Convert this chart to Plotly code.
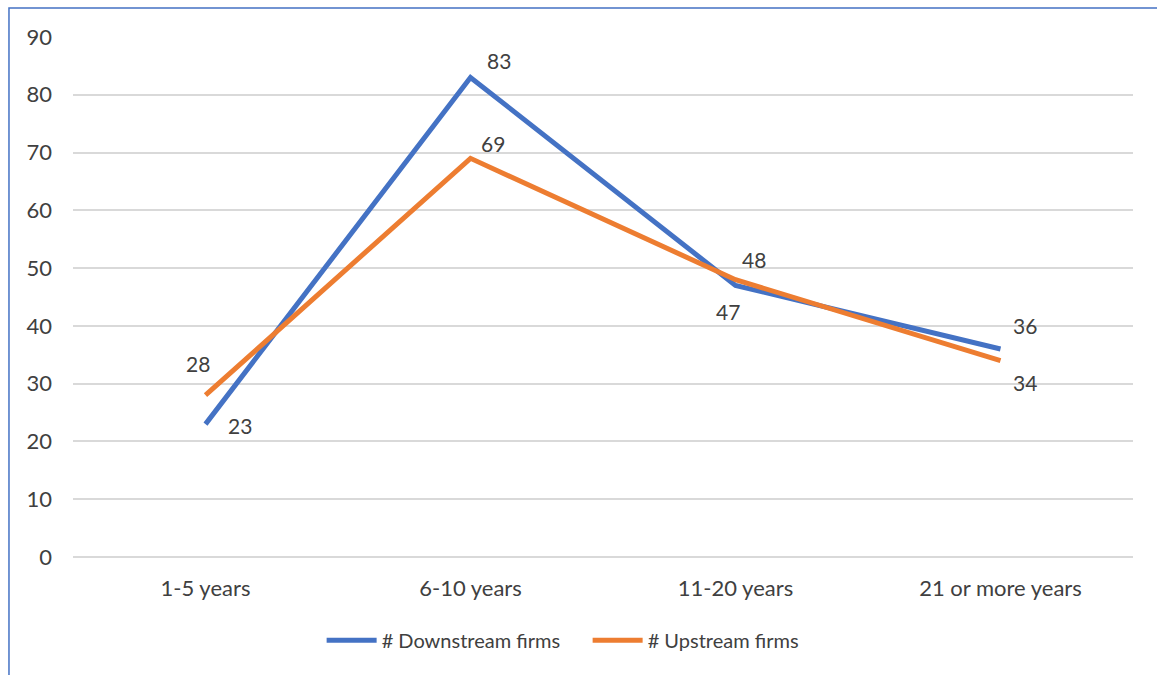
import plotly.graph_objects as go

# Firm age categories and counts per series
categories = ["1-5 years", "6-10 years", "11-20 years", "21 or more years"]
downstream = [23, 83, 47, 36]
upstream = [28, 69, 48, 34]

# Label offsets (pixels) for each data label
down_offsets = [(34, -1), (28, 17), (-8, -26), (24, 24)]
up_offsets = [(-8, 32), (22, 15), (18, 20), (24, -22)]

BLUE = "#4472C4"
ORANGE = "#ED7D31"
TEXT = "#404040"
FONT = "Lato, Open Sans, sans-serif"
FS = 22

fig = go.Figure()
fig.add_trace(go.Scatter(
    x=categories, y=downstream, mode="lines", name="# Downstream firms",
    line=dict(color=BLUE, width=5),
))
fig.add_trace(go.Scatter(
    x=categories, y=upstream, mode="lines", name="# Upstream firms",
    line=dict(color=ORANGE, width=5),
))

annotations = []
for series, offsets in ((downstream, down_offsets), (upstream, up_offsets)):
    for cat, val, (dx, dy) in zip(categories, series, offsets):
        annotations.append(dict(
            x=cat, y=val, text=str(val), showarrow=False,
            xshift=dx, yshift=dy,
            font=dict(size=21, color=TEXT, family=FONT),
        ))

fig.update_layout(
    width=1157, height=675,
    margin=dict(l=73, r=24, t=37, b=118, autoexpand=False),
    plot_bgcolor="white", paper_bgcolor="white",
    font=dict(family=FONT, color=TEXT, size=FS),
    annotations=annotations,
    showlegend=True,
    legend=dict(
        orientation="h", x=0.4855, xanchor="center", y=-0.16, yanchor="middle",
        font=dict(size=20, color=TEXT, family=FONT),
        itemwidth=50, tracegroupgap=0,
        entrywidth=201, entrywidthmode="pixels",
    ),
    xaxis=dict(
        range=[-0.5, 3.5], showgrid=False, zeroline=False, showline=False,
        ticks="", ticklabelstandoff=16,
        tickfont=dict(size=FS, color=TEXT, family=FONT),
    ),
    yaxis=dict(
        range=[0, 90], dtick=10, showgrid=True, gridcolor="#D9D9D9",
        gridwidth=1.5, zeroline=True, zerolinecolor="#D9D9D9",
        zerolinewidth=1.5, showline=False, ticks="",
        ticklabelstandoff=20,
        tickfont=dict(size=FS, color=TEXT, family=FONT),
    ),
    shapes=[dict(
        type="rect", xref="paper", yref="paper",
        x0=-0.0604, x1=1.2, y0=-1.0, y1=1.0558,
        line=dict(color=BLUE, width=1.5), fillcolor="rgba(0,0,0,0)",
        layer="below",
    )],
)

fig.write_html("out.html")
